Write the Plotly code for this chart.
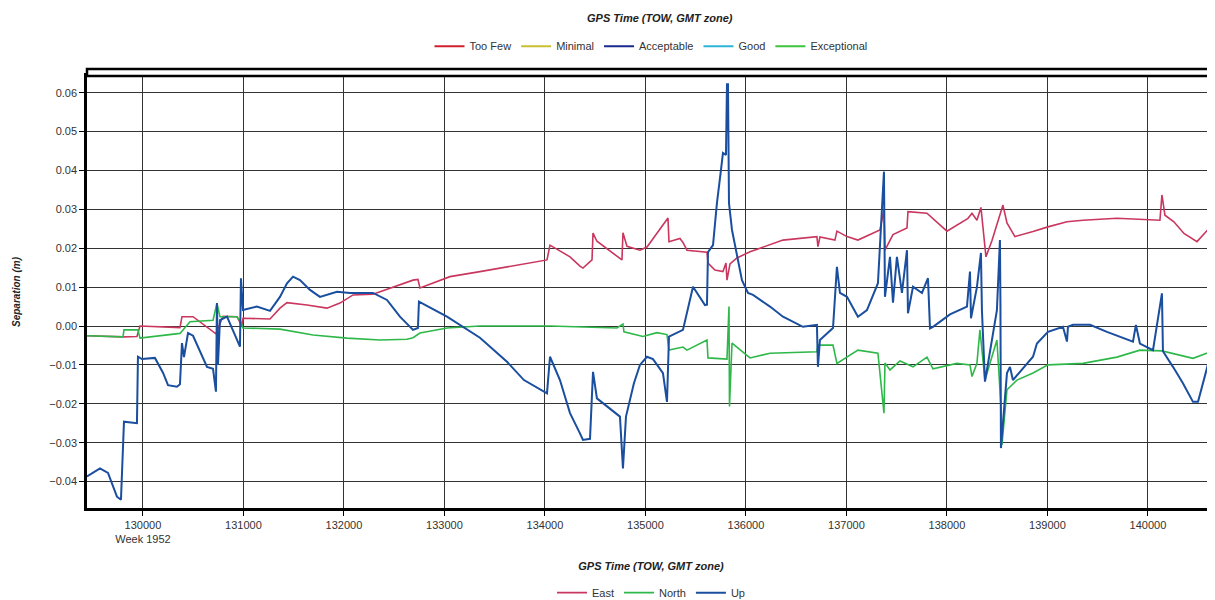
import plotly.graph_objects as go

# GPS separation plot, week 1952

east_tow = [129443, 129801, 129940, 129970, 130368, 130388, 130498, 130726, 130796, 130935,
            130985, 130995, 131264, 131363, 131433, 131632, 131831, 131960, 132090, 132289,
            132687, 132736, 132756, 133055, 133353, 134020, 134050, 134249, 134348, 134378,
            134468, 134478, 134517, 134766, 134776, 134816, 134945, 135015, 135224, 135234,
            135343, 135373, 135413, 135612, 135622, 135691, 135771, 135801, 135811, 135841,
            135910, 136040, 136368, 136706, 136716, 136736, 136885, 136905, 137005, 137114,
            137333, 137373, 137383, 137463, 137602, 137612, 137801, 137861, 137930, 138000,
            138099, 138209, 138249, 138298, 138338, 138388, 138448, 138497, 138557, 138597,
            138676, 138856, 139005, 139194, 139353, 139691, 140119, 140139, 140169, 140258,
            140358, 140488, 140667]
east_sep = [-0.0025, -0.0028, -0.0027, 0.0000, -0.0004, 0.0024, 0.0024, -0.0020, 0.0025, 0.0024,
            0.0000, 0.0020, 0.0018, 0.0046, 0.0060, 0.0054, 0.0046, 0.0059, 0.0080, 0.0082,
            0.0118, 0.0120, 0.0098, 0.0127, 0.0140, 0.0170, 0.0208, 0.0178, 0.0154, 0.0149,
            0.0170, 0.0239, 0.0218, 0.0170, 0.0240, 0.0205, 0.0195, 0.0203, 0.0278, 0.0217,
            0.0225, 0.0215, 0.0195, 0.0190, 0.0162, 0.0144, 0.0140, 0.0162, 0.0118, 0.0160,
            0.0175, 0.0191, 0.0221, 0.0230, 0.0204, 0.0229, 0.0221, 0.0244, 0.0230, 0.0221,
            0.0247, 0.0298, 0.0195, 0.0235, 0.0252, 0.0294, 0.0290, 0.0275, 0.0260, 0.0244,
            0.0260, 0.0277, 0.0290, 0.0272, 0.0305, 0.0178, 0.0220, 0.0260, 0.0311, 0.0265,
            0.0230, 0.0243, 0.0255, 0.0268, 0.0272, 0.0277, 0.0272, 0.0337, 0.0285, 0.0268,
            0.0238, 0.0217, 0.0268]

north_tow = [129443, 129801, 129811, 129950, 129970, 130368, 130468, 130697, 130736, 130766,
             130935, 130975, 130995, 131363, 131692, 132030, 132358, 132627, 132687, 132756,
             133025, 133353, 134050, 134716, 134776, 134786, 134975, 135114, 135214, 135234,
             135373, 135413, 135612, 135622, 135811, 135831, 135836, 135861, 136040, 136239,
             136706, 136716, 136866, 136905, 137114, 137313, 137373, 137383, 137433, 137532,
             137662, 137801, 137861, 138099, 138229, 138249, 138298, 138328, 138378, 138497,
             138537, 138547, 138597, 138696, 138856, 139005, 139353, 139691, 139920, 140139,
             140448, 140667]
north_sep = [-0.0025, -0.0028, -0.0010, -0.0010, -0.0031, -0.0019, 0.0011, 0.0015, 0.0059, 0.0024,
             0.0024, 0.0010, -0.0005, -0.0008, -0.0023, -0.0031, -0.0036, -0.0034, -0.0030, -0.0018,
             -0.0005, 0.0000, 0.0000, -0.0005, 0.0005, -0.0015, -0.0027, -0.0017, -0.0022, -0.0062,
             -0.0054, -0.0062, -0.0036, -0.0082, -0.0085, 0.0050, -0.0207, -0.0044, -0.0082, -0.0070,
             -0.0066, -0.0049, -0.0049, -0.0096, -0.0062, -0.0070, -0.0224, -0.0095, -0.0113, -0.0090,
             -0.0105, -0.0080, -0.0110, -0.0096, -0.0100, -0.0130, -0.0096, -0.0010, -0.0139, -0.0036,
             -0.0207, -0.0306, -0.0164, -0.0139, -0.0121, -0.0100, -0.0096, -0.0080, -0.0062, -0.0064,
             -0.0083, -0.0062]

up_tow = [129443, 129572, 129652, 129701, 129741, 129781, 129791, 129811, 129940, 129950,
          129990, 130119, 130199, 130249, 130338, 130368, 130388, 130408, 130448, 130498,
          130637, 130697, 130726, 130736, 130746, 130766, 130836, 130965, 130975, 130995,
          131134, 131264, 131363, 131433, 131493, 131562, 131662, 131761, 131930, 132060,
          132289, 132428, 132557, 132687, 132736, 132746, 133025, 133353, 133622, 133791,
          134020, 134050, 134149, 134249, 134348, 134378, 134448, 134478, 134517, 134617,
          134746, 134776, 134806, 134885, 134945, 135015, 135075, 135174, 135214, 135234,
          135373, 135473, 135592, 135612, 135622, 135672, 135711, 135751, 135771, 135801,
          135811, 135821, 135831, 135861, 135910, 135960, 136020, 136070, 136239, 136368,
          136567, 136706, 136716, 136736, 136866, 136905, 136935, 137005, 137114, 137204,
          137313, 137373, 137383, 137433, 137463, 137502, 137552, 137602, 137612, 137662,
          137751, 137811, 137831, 137861, 138030, 138199, 138229, 138239, 138298, 138338,
          138348, 138378, 138497, 138527, 138532, 138537, 138597, 138627, 138656, 138826,
          138856, 138895, 139005, 139154, 139194, 139204, 139254, 139423, 139592, 139851,
          139880, 139920, 140050, 140139, 140149, 140249, 140348, 140448, 140498, 140617,
          140647, 140667]
up_sep = [-0.0387, -0.0366, -0.0378, -0.0410, -0.0439, -0.0447, -0.0378, -0.0246, -0.0250, -0.0079,
          -0.0085, -0.0082, -0.0120, -0.0152, -0.0156, -0.0150, -0.0044, -0.0080, -0.0018, -0.0025,
          -0.0105, -0.0110, -0.0169, 0.0059, -0.0100, 0.0015, 0.0024, -0.0053, 0.0123, 0.0041,
          0.0050, 0.0039, 0.0075, 0.0110, 0.0127, 0.0118, 0.0093, 0.0075, 0.0088, 0.0085,
          0.0085, 0.0067, 0.0024, -0.0010, -0.0005, 0.0063, 0.0024, -0.0030, -0.0092, -0.0139,
          -0.0173, -0.0079, -0.0139, -0.0224, -0.0276, -0.0293, -0.0290, -0.0118, -0.0186, -0.0207,
          -0.0233, -0.0366, -0.0233, -0.0147, -0.0100, -0.0079, -0.0085, -0.0121, -0.0195, -0.0027,
          -0.0010, 0.0101, 0.0054, 0.0055, 0.0190, 0.0208, 0.0316, 0.0401, 0.0445, 0.0440,
          0.0622, 0.0622, 0.0316, 0.0247, 0.0178, 0.0118, 0.0085, 0.0080, 0.0050, 0.0024,
          -0.0002, 0.0003, -0.0105, -0.0036, -0.0005, 0.0152, 0.0085, 0.0075, 0.0024, 0.0041,
          0.0110, 0.0397, 0.0075, 0.0178, 0.0060, 0.0178, 0.0085, 0.0195, 0.0033, 0.0101,
          0.0085, 0.0123, -0.0006, -0.0002, 0.0030, 0.0050, 0.0140, 0.0020, 0.0100, 0.0188,
          0.0040, -0.0143, 0.0041, 0.0221, 0.0060, -0.0314, -0.0121, -0.0105, -0.0139, -0.0087,
          -0.0079, -0.0045, -0.0015, -0.0002, -0.0040, -0.0002, 0.0003, 0.0003, -0.0015, -0.0040,
          0.0003, -0.0045, -0.0062, 0.0084, -0.0065, -0.0105, -0.0147, -0.0195, -0.0195, -0.0079,
          -0.0118, -0.0100]

quality_names = ["Too Few", "Minimal", "Acceptable", "Good", "Exceptional"]
quality_colors = ["#d0202e", "#c8c032", "#1a2a8c", "#2cb4d8", "#3cc43c"]

tick_vals = [130000, 131000, 132000, 133000, 134000, 135000, 136000, 137000, 138000, 139000, 140000]
tick_text = ["130000<br>Week 1952"] + [str(v) for v in tick_vals[1:]]

font = "Liberation Sans, Arial, sans-serif"

fig = go.Figure()

# quality legend (top) - entries only, nothing of it is drawn in this view
for name, col in zip(quality_names, quality_colors):
    fig.add_trace(go.Scatter(x=[None], y=[None], mode="lines", name=name,
                             line=dict(color=col, width=2), legend="legend"))

fig.add_trace(go.Scatter(x=east_tow, y=east_sep, mode="lines", name="East",
                         line=dict(color="#c9375f", width=1.6), legend="legend2"))
fig.add_trace(go.Scatter(x=north_tow, y=north_sep, mode="lines", name="North",
                         line=dict(color="#2fb84a", width=1.6), legend="legend2"))
fig.add_trace(go.Scatter(x=up_tow, y=up_sep, mode="lines", name="Up",
                         line=dict(color="#1a4e9e", width=2), legend="legend2"))

# thin strip above the data area (quality bar)
fig.add_shape(type="rect", xref="paper", yref="paper", x0=0, x1=1, y0=1, y1=1 + 7 / 432,
              line=dict(color="black", width=2.5), fillcolor="white", layer="above")

# page has an 8px body margin, so the figure is a bit smaller than the window
fig.update_layout(
    width=1207, height=592,
    margin=dict(l=79, r=0, t=68, b=92, autoexpand=False),
    paper_bgcolor="white", plot_bgcolor="white",
    font=dict(family=font, size=11, color="#333"),
    title=dict(text="<b><i>GPS Time (TOW, GMT zone)</i></b>", x=0.54, xanchor="center",
               y=1 - 10 / 592, yanchor="middle", font=dict(size=11, color="#222")),
    legend=dict(orientation="h", x=0.5, xanchor="center", y=1.069, yanchor="middle",
                font=dict(size=11, color="#333"), itemwidth=30),
    legend2=dict(orientation="h", x=0.5, xanchor="center", y=-0.196, yanchor="middle",
                 font=dict(size=11, color="#333"), itemwidth=30),
    showlegend=True,
)

fig.update_xaxes(
    range=[129443, 140667], tickvals=tick_vals, ticktext=tick_text,
    showgrid=True, gridcolor="#333", gridwidth=1, zeroline=False,
    showline=True, linecolor="black", linewidth=2.5, mirror=True,
    ticks="outside", ticklen=5, tickcolor="black",
    tickfont=dict(size=11, color="#333"),
    title=dict(text="<b><i>GPS Time (TOW, GMT zone)</i></b>", standoff=19,
               font=dict(size=11, color="#222")),
)
fig.update_yaxes(
    range=[-0.0468, 0.0643], dtick=0.01, tickformat=".2f",
    showgrid=True, gridcolor="#333", gridwidth=1, zeroline=False,
    showline=True, linecolor="black", linewidth=2.5, mirror=True,
    ticks="outside", ticklen=5, tickcolor="black",
    tickfont=dict(size=11, color="#333"),
    title=dict(text="<b><i>Separation (m)</i></b>", standoff=27,
               font=dict(size=10, color="#222")),
)

fig.write_html("out.html")
